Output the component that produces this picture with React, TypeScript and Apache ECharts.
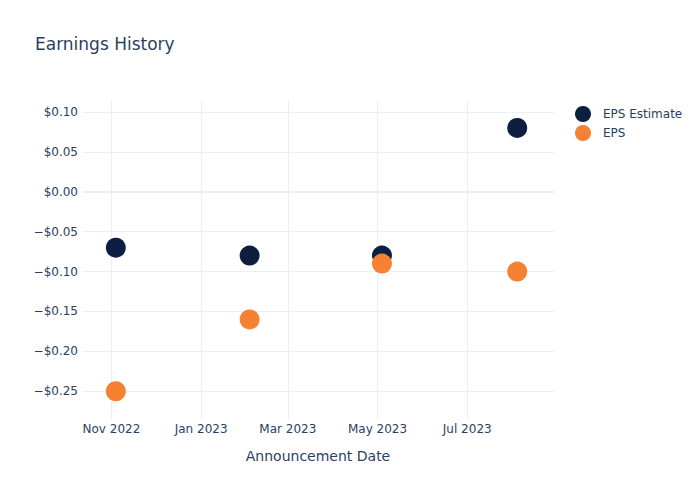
import React, { useEffect, useRef } from "react";
import * as echarts from "echarts";

const announcementDates = ["2022-11-04", "2023-02-03", "2023-05-04", "2023-08-04"];
const epsEstimate = [-0.07, -0.08, -0.08, 0.08];
const epsActual = [-0.25, -0.16, -0.09, -0.1];
const yTicks = [-0.25, -0.2, -0.15, -0.1, -0.05, 0, 0.05, 0.1];
const xTicks = ["2022-11-01", "2023-01-01", "2023-03-01", "2023-05-01", "2023-07-01"];
const monthNames = ["Jan", "Feb", "Mar", "Apr", "May", "Jun", "Jul", "Aug", "Sep", "Oct", "Nov", "Dec"];

const ts = (s: string) => {
  const [y, m, d] = s.split("-").map(Number);
  return Date.UTC(y, m - 1, d);
};

const FONT = "DejaVu Sans";
const TXT = "#2a3f5f";
const GRID = "#EBF0F8";

export default function App() {
  const ref = useRef<HTMLDivElement>(null);
  useEffect(() => {
    if (!ref.current) return;
    const chart = echarts.init(ref.current, undefined, { renderer: "svg" });
    chart.setOption({
      animation: false,
      textStyle: { fontFamily: FONT },
      title: {
        text: "Earnings History",
        left: 35,
        top: 35,
        padding: 0,
        textStyle: { fontFamily: FONT, fontSize: 17, fontWeight: "normal", color: TXT },
      },
      legend: {
        orient: "vertical",
        left: 575,
        top: 106,
        padding: 0,
        icon: "circle",
        itemWidth: 30,
        itemHeight: 16,
        itemGap: 3,
        textStyle: { fontFamily: FONT, fontSize: 12, color: TXT },
        data: ["EPS Estimate", "EPS"],
      },
      grid: { left: 82, right: 146, top: 100, bottom: 80, containLabel: false },
      xAxis: {
        type: "value",
        min: ts("2022-10-12"),
        max: ts("2023-08-29"),
        name: "Announcement Date",
        nameLocation: "middle",
        nameGap: 29,
        nameTextStyle: { fontFamily: FONT, fontSize: 14, color: TXT },
        axisLine: { show: false },
        axisTick: { show: false, customValues: xTicks.map(ts) },
        axisLabel: {
          customValues: xTicks.map(ts),
          margin: 3,
          fontFamily: FONT,
          fontSize: 12,
          color: TXT,
          formatter: (v: number) => {
            const d = new Date(v);
            return monthNames[d.getUTCMonth()] + " " + d.getUTCFullYear();
          },
        },
        splitLine: { show: true, lineStyle: { color: GRID, width: 1 } },
      },
      yAxis: {
        type: "value",
        min: -0.286,
        max: 0.115,
        axisLine: { show: false },
        axisTick: { show: false, customValues: yTicks },
        axisLabel: {
          customValues: yTicks,
          margin: 4,
          fontFamily: FONT,
          fontSize: 12,
          color: TXT,
          formatter: (v: number) => (v < -1e-9 ? "\u2212" : "") + "$" + Math.abs(v).toFixed(2),
        },
        splitLine: { show: true, lineStyle: { color: GRID, width: 1 } },
      },
      series: [
        {
          name: "EPS Estimate",
          type: "scatter",
          symbolSize: 20,
          itemStyle: { color: "#0c1f40", opacity: 1 },
          data: announcementDates.map((d, i) => [ts(d), epsEstimate[i]]),
          markLine: {
            silent: true,
            symbol: "none",
            label: { show: false },
            lineStyle: { color: GRID, width: 2, type: "solid" },
            data: [{ yAxis: 0 }],
            z: 0,
          },
        },
        {
          name: "EPS",
          type: "scatter",
          symbolSize: 20,
          itemStyle: { color: "#f58233", opacity: 1 },
          data: announcementDates.map((d, i) => [ts(d), epsActual[i]]),
        },
      ],
    });
    return () => chart.dispose();
  }, []);
  return <div ref={ref} style={{ position: "absolute", left: 0, top: 0, width: 700, height: 500 }} />;
}
